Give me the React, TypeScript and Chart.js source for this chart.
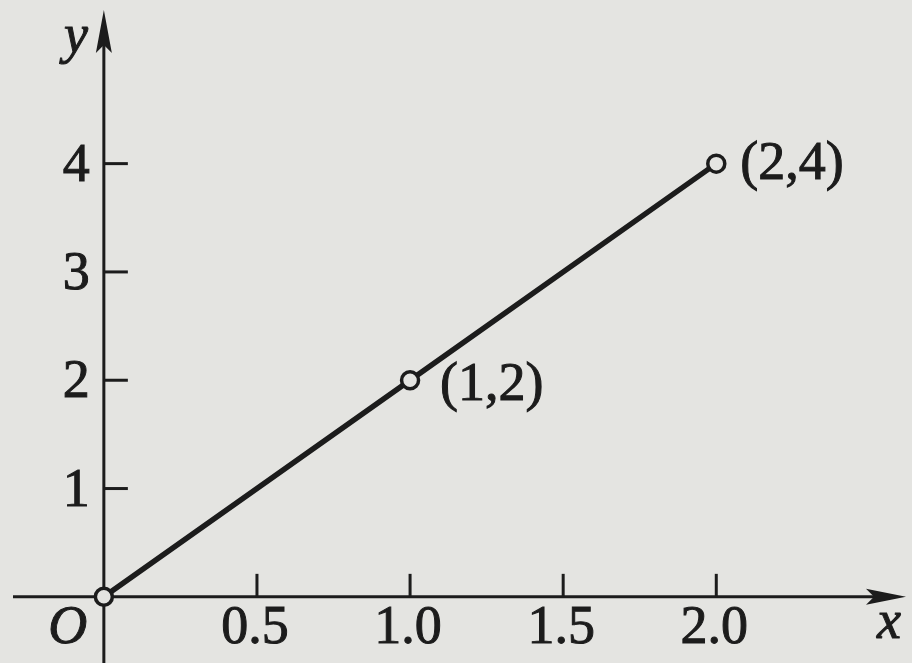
import React, { useEffect, useRef } from "react";
import { Chart, registerables } from "chart.js";

Chart.register(...registerables);

// ---- data ----
const pointsX: number[] = [0, 1, 2];
const pointsY: number[] = [0, 2, 4];
const pointLabels: string[] = ["", "(1,2)", "(2,4)"];
const xTickValues: number[] = [0.5, 1.0, 1.5, 2.0];
const xTickLabels: string[] = ["0.5", "1.0", "1.5", "2.0"];
const yTickValues: number[] = [1, 2, 3, 4];
const yTickLabels: string[] = ["1", "2", "3", "4"];

const BG = "#e4e4e1";
const INK = "#1c1c1c";
const FONT = "54px 'Liberation Serif', 'Times New Roman', serif";
const IFONT = "italic 54px 'Liberation Serif', 'Times New Roman', serif";

function boldText(ctx: any, text: string, x: number, y: number) {
  ctx.fillText(text, x, y);
  ctx.lineWidth = 1;
  ctx.strokeText(text, x, y);
}

const axesPlugin = {
  id: "mathAxes",
  beforeDatasetsDraw(chart: any) {
    const { ctx } = chart;
    const xs = chart.scales.x;
    const ys = chart.scales.y;
    const ox = xs.getPixelForValue(0);
    const oy = ys.getPixelForValue(0);
    const W = chart.width;
    const H = chart.height;
    ctx.save();
    ctx.strokeStyle = INK;
    ctx.fillStyle = INK;
    ctx.lineWidth = 3;
    ctx.lineCap = "butt";
    // x axis
    const xStart = 13;
    const xTip = W - 6;
    ctx.beginPath();
    ctx.moveTo(xStart, oy);
    ctx.lineTo(xTip - 30, oy);
    ctx.stroke();
    // x arrow
    ctx.beginPath();
    ctx.moveTo(xTip, oy);
    ctx.lineTo(xTip - 40, oy - 8);
    ctx.lineTo(xTip - 32, oy);
    ctx.lineTo(xTip - 40, oy + 8);
    ctx.closePath();
    ctx.fill();
    // y axis
    const yTip = 10;
    ctx.beginPath();
    ctx.moveTo(ox, H);
    ctx.lineTo(ox, yTip + 30);
    ctx.stroke();
    ctx.beginPath();
    ctx.moveTo(ox, yTip);
    ctx.lineTo(ox - 8, yTip + 43);
    ctx.lineTo(ox, yTip + 35);
    ctx.lineTo(ox + 8, yTip + 43);
    ctx.closePath();
    ctx.fill();

    // ticks
    ctx.font = FONT;
    xTickValues.forEach((v, i) => {
      const px = xs.getPixelForValue(v);
      ctx.lineWidth = 3;
      ctx.beginPath();
      ctx.moveTo(px, oy);
      ctx.lineTo(px, oy - 23);
      ctx.stroke();
      ctx.textAlign = "center";
      ctx.textBaseline = "middle";
      boldText(ctx, xTickLabels[i], px - 2, oy + 32);
    });
    yTickValues.forEach((v, i) => {
      const py = ys.getPixelForValue(v);
      ctx.lineWidth = 3;
      ctx.beginPath();
      ctx.moveTo(ox, py);
      ctx.lineTo(ox + 24, py);
      ctx.stroke();
      ctx.textAlign = "right";
      ctx.textBaseline = "middle";
      boldText(ctx, yTickLabels[i], ox - 14, py + 3);
    });

    // axis names and origin
    ctx.font = IFONT;
    ctx.textAlign = "center";
    ctx.textBaseline = "middle";
    boldText(ctx, "O", ox - 36, oy + 32);
    boldText(ctx, "x", 889, oy + 27);
    boldText(ctx, "y", ox - 28, 38);
    ctx.restore();
  },
  afterDatasetsDraw(chart: any) {
    const { ctx } = chart;
    const xs = chart.scales.x;
    const ys = chart.scales.y;
    ctx.save();
    ctx.fillStyle = INK;
    ctx.strokeStyle = INK;
    ctx.font = FONT;
    ctx.textAlign = "left";
    ctx.textBaseline = "middle";
    pointsX.forEach((xv, i) => {
      const label = pointLabels[i];
      if (!label) return;
      const px = xs.getPixelForValue(xv);
      const py = ys.getPixelForValue(pointsY[i]);
      if (i === 1) boldText(ctx, label, px + 30, py + 6);
      else boldText(ctx, label, px + 24, py + 1);
    });
    ctx.restore();
  },
};

export default function App() {
  const ref = useRef<HTMLCanvasElement | null>(null);
  useEffect(() => {
    document.body.style.margin = "0";
    const canvas = ref.current!;
    const chart = new Chart(canvas, {
      type: "scatter",
      data: {
        datasets: [
          {
            data: pointsX.map((x, i) => ({ x, y: pointsY[i] })),
            showLine: true,
            borderColor: INK,
            borderWidth: 5.5,
            pointRadius: 8.5,
            pointBorderWidth: 3.5,
            pointBorderColor: INK,
            pointBackgroundColor: BG,
          },
        ],
      },
      options: {
        animation: false,
        responsive: false,
        devicePixelRatio: 1,
        layout: { padding: { left: 7, right: 6, top: 11.7, bottom: 5.25 } },
        plugins: {
          legend: { display: false },
          tooltip: { enabled: false },
        },
        events: [],
        scales: {
          x: { type: "linear", min: -0.3, max: 2.6, display: false },
          y: { type: "linear", min: -0.5, max: 5.4, display: false },
        },
      },
      plugins: [axesPlugin],
    });
    return () => chart.destroy();
  }, []);
  return (
    <div
      style={{
        position: "fixed",
        left: 0,
        top: 0,
        width: 912,
        height: 663,
        background: BG,
      }}
    >
      <canvas ref={ref} width={912} height={663} style={{ width: 912, height: 663, display: "block" }} />
    </div>
  );
}
